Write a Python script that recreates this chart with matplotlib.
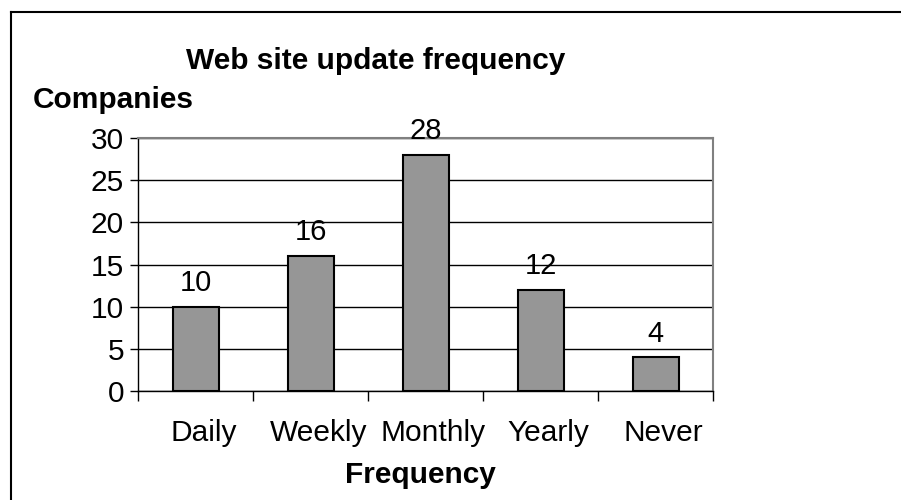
import matplotlib
matplotlib.use("Agg")
import matplotlib.pyplot as plt
import matplotlib.transforms as mtransforms
from matplotlib.lines import Line2D

categories = ["Daily", "Weekly", "Monthly", "Yearly", "Never"]
values = [10, 16, 28, 12, 4]
yticks = [0, 5, 10, 15, 20, 25, 30]

plt.rcParams['font.family'] = ['Liberation Sans', 'DejaVu Sans']

W, H = 901, 500
fig = plt.figure(figsize=(W / 100, H / 100), dpi=100)

x0, x1, y0, y1 = 138, 713, 391, 138
ax = fig.add_axes([x0 / W, 1 - y0 / H, (x1 - x0) / W, (y0 - y1) / H])

FS = 21.5
xs = list(range(len(categories)))
ax.bar(xs, values, width=0.4, color="#969696", edgecolor="black", linewidth=1.5, zorder=3)
for x, v in zip(xs, values):
    ax.annotate(str(v), (x, v), xytext=(0, 7), textcoords="offset points",
                ha="center", va="bottom", fontsize=21)

ax.set_xlim(-0.5, len(categories) - 0.5)
ax.set_ylim(0, 30)
ax.set_yticks(yticks)
ax.set_yticklabels([str(t) for t in yticks], fontsize=FS)
ax.yaxis.grid(True, color="black", linewidth=1.0, zorder=0)
ax.set_axisbelow(True)

ax.set_xticks(xs)
ax.set_xticklabels(categories, fontsize=FS)
ax.tick_params(axis="x", length=0, pad=20)
ax.set_xticks([i - 0.5 for i in range(len(categories) + 1)], minor=True)
ax.tick_params(axis="x", which="minor", length=7, width=1, direction="out")
ax.tick_params(axis="y", length=6, width=1, direction="out", pad=4)

offset = mtransforms.ScaledTranslation(8 / 100, 0, fig.dpi_scale_trans)
for lbl in ax.get_xticklabels():
    lbl.set_transform(lbl.get_transform() + offset)

for s in ["left", "bottom"]:
    ax.spines[s].set_color("black")
    ax.spines[s].set_linewidth(1.0)
for s in ["top", "right"]:
    ax.spines[s].set_color("#808080")
    ax.spines[s].set_linewidth(1.5)

fig.text(376 / W, 1 - 61 / H, "Web site update frequency", ha="center", va="center",
         fontsize=FS, fontweight="bold")
fig.text(33 / W, 1 - 100 / H, "Companies", ha="left", va="center",
         fontsize=FS, fontweight="bold")
fig.text(420 / W, 1 - 475 / H, "Frequency", ha="center", va="center",
         fontsize=FS, fontweight="bold")

# outer frame (left and top edges visible)
fig.add_artist(Line2D([10.5 / W, 10.5 / W], [0, 1 - 11.5 / H], transform=fig.transFigure,
                      color="black", linewidth=1.5))
fig.add_artist(Line2D([10.5 / W, 1], [1 - 11.5 / H, 1 - 11.5 / H], transform=fig.transFigure,
                      color="black", linewidth=1.5))

fig.savefig("out.png", dpi=100)
